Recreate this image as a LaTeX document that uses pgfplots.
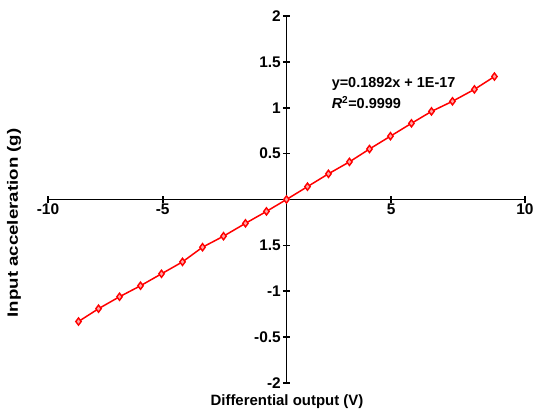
\documentclass[border=0pt]{standalone}
\usepackage{fontspec}
\setmainfont{Liberation Sans}
\usepackage{pgfplots}
\pgfplotsset{compat=1.18}

\begin{document}
\begin{tikzpicture}
\begin{axis}[
    scale only axis,
    width=477bp, height=367bp,
    xmin=-10, xmax=10,
    ymin=-2, ymax=2,
    enlargelimits=false,
    axis lines=middle,
    axis line style={-, line width=1.8bp, black},
    clip=false,
    % tick labels as drawn in the source figure
    xtick={-10,-5.19,4.39,10},
    xticklabels={-10,-5,5,10},
    ytick={-2,-1.5,-1,-0.5,0.5,1,1.5,2},
    yticklabels={-2,-0.5,-1,1.5,0.5,1,1.5,2},
    tick align=center,
    major tick length=7bp,
    tick style={line width=1.6bp, black},
    ticklabel style={font=\fontsize{15.5}{17}\selectfont\bfseries},
    xticklabel style={inner sep=1bp},
    yticklabel style={inner sep=2bp},
    xlabel={Differential output (V)},
    ylabel={\scalebox{1.25}[1]{Input acceleration (g)}},
    label style={font=\fontsize{15}{17}\selectfont\bfseries},
    xlabel style={at={(axis description cs:0.501,-0.052)}, anchor=center},
    ylabel style={at={(axis description cs:-0.071,0.436)}, anchor=center, rotate=90},
]
\addplot[red, line width=1.5bp, mark=diamond*, mark size=3.6bp,
    mark options={fill=red!35, draw=red, line width=1.4bp}]
coordinates {
(-8.72,-1.33) (-7.88,-1.19) (-7.00,-1.06) (-6.12,-0.94) (-5.24,-0.81)
(-4.36,-0.68) (-3.52,-0.52) (-2.64,-0.40) (-1.72,-0.26) (-0.84,-0.13)
(0,0)
(0.88,0.14) (1.76,0.28) (2.64,0.41) (3.48,0.55) (4.36,0.69)
(5.24,0.83) (6.08,0.96) (6.96,1.07) (7.88,1.20) (8.72,1.34)
};
\node[anchor=west, inner sep=0pt, font=\fontsize{14.5}{16}\selectfont\bfseries]
    at (axis cs:1.89,1.255) {y=0.1892x + 1E-17};
\node[anchor=west, inner sep=0pt, font=\fontsize{14.5}{16}\selectfont\bfseries]
    at (axis cs:1.89,1.06) {\textit{R}\textsuperscript{2}=0.9999};
% page frame matching the reference proportions
\path (axis description cs:-0.1006,-0.079) rectangle (axis description cs:1.0294,1.0436);
\end{axis}
\end{tikzpicture}
\end{document}
